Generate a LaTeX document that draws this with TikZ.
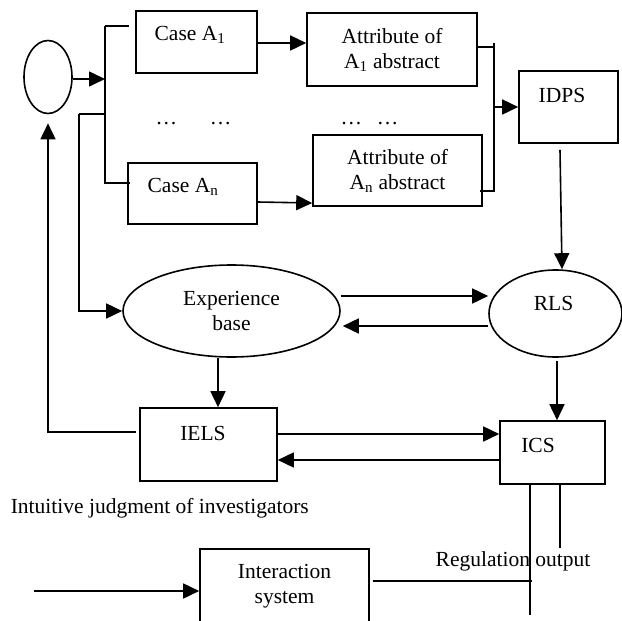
\documentclass[tikz,border=0pt]{standalone}
\usepackage{fontspec}
\setmainfont{Liberation Serif}
\usetikzlibrary{positioning, shapes.geometric, arrows.meta}

\begin{document}
\begin{tikzpicture}[
  x=1pt, y=-1pt,
  font=\fontsize{21.5pt}{25pt}\selectfont,
  line width=1.6pt,
  >={Triangle[length=16pt, width=15pt]},
  arr/.style={->},
  ln/.style={-},
  blk/.style={draw, rectangle, inner sep=0pt, align=center},
  oval/.style={draw, ellipse, inner sep=0pt, align=center},
  inlbl/.style={anchor=center, inner sep=0pt},
]
\useasboundingbox (0,0) rectangle (622,621);

%% ===== TOP: CASES AND ATTRIBUTES =====

\node[oval, minimum width=48pt, minimum height=73pt] (src) at (48,77) {};

\node[blk, minimum width=121pt, minimum height=62pt,
      label={[inlbl, shift={(-6.5pt,7pt)}]center:Case A\textsubscript{1}}] (caseA1) at (196.5,42) {};

\node[blk, minimum width=129pt, minimum height=61pt,
      label={[inlbl, shift={(-9.5pt,6.5pt)}]center:Case A\textsubscript{n}}] (caseAn) at (192.5,193.5) {};

\node[blk, minimum width=170pt, minimum height=73pt] (attrA1) at (392,49.5)
    {Attribute of\\A\textsubscript{1} abstract};

\node[blk, minimum width=169pt, minimum height=71pt] (attrAn) at (397.5,170.5)
    {Attribute of\\A\textsubscript{n} abstract};

\node[inlbl] (dotsL) at (193.5,124) {\dots\hspace{33pt}\dots};
\node[inlbl] (dotsR) at (369.5,124) {\dots\hspace{15pt}\dots};

\node[blk, minimum width=99pt, minimum height=72pt,
      label={[inlbl, shift={(-6.5pt,12pt)}]center:IDPS}] (idps) at (568.5,107) {};

%% ===== MIDDLE: EXPERIENCE BASE AND RLS =====

\node[oval, minimum width=217pt, minimum height=92pt] (exp) at (231.5,311)
    {Experience\\base};

\node[oval, minimum width=133pt, minimum height=87pt,
      label={[inlbl, shift={(-2pt,10pt)}]center:RLS}] (rls) at (555.5,313.5) {};

%% ===== BOTTOM: IELS, ICS, INTERACTION =====

\node[blk, minimum width=137pt, minimum height=73pt,
      label={[inlbl, shift={(-5.5pt,11.5pt)}]center:IELS}] (iels) at (208.5,444.5) {};

\node[blk, minimum width=105pt, minimum height=63pt,
      label={[inlbl, shift={(-14.5pt,7.5pt)}]center:ICS}] (ics) at (552.5,452.5) {};

\node[anchor=west, inner sep=0pt] (intuit) at (10,508)
    {Intuitive judgment of investigators};

\node[blk, minimum width=169pt, minimum height=74pt] (inter) at (284.5,586)
    {Interaction\\system};

\node[inlbl] (regout) at (513,561) {Regulation output};

\coordinate (busT) at (105,26);
\coordinate (busB) at (105,183);
\coordinate (fbk) at (79,114);
\coordinate (rbusT) at (494,43);
\coordinate (rbusB) at (494,191);
\coordinate (inpt) at (34,591);

%% ===== ARROWS =====

\draw[ln] (busT) -- (129,26);
\draw[ln] (busT) -- (busB) -- (130,183);
\draw[arr] (src.east |- 0,79) -- (busT |- 0,79);
\draw[ln] (fbk) -- (busT |- fbk);
\draw[arr] (fbk) |- (exp.west);

\draw[arr] (caseA1.east |- 0,43) -- (attrA1.west |- 0,43);
\draw[arr] (caseAn.east |- 0,202) -- (attrAn.west |- 0,203);

\draw[ln] (attrA1.east |- 0,47) -- (rbusT |- 0,47);
\draw[ln] (rbusT) -- (rbusB) -- (480,191);
\draw[arr] (rbusT |- idps.west) -- (idps.west);

\draw[arr] ([xshift=-8.5pt, yshift=-6pt]idps.south) -- (rls.north -| 562,0);

\draw[arr] (exp.east |- 0,296) -- (rls.west |- 0,296);
\draw[arr] (rls.west |- 0,326) -- ([xshift=2pt]exp.east |- 0,326);

\draw[arr] (exp.south -| 218,0) -- (iels.north -| 218,0);
\draw[arr] ([yshift=-3pt]rls.south -| 557,0) -- (ics.north -| 557,0);

\draw[arr] (iels.east |- 0,434) -- (ics.west |- 0,434);
\draw[arr] (ics.west |- 0,460) -- (iels.east |- 0,460);

\draw[arr] ([xshift=-3pt, yshift=12.5pt]iels.west) -| ([yshift=-9pt]src.south);

\draw[arr] (inpt) -- (inter.west |- inpt);
\draw[ln] ([xshift=3pt]inter.east |- 0,581) -- (532,581);
\draw[ln] (ics.south -| 530,0) -- (530,615);
\draw[ln] (ics.south -| 560,0) -- (560,548);

\end{tikzpicture}
\end{document}
